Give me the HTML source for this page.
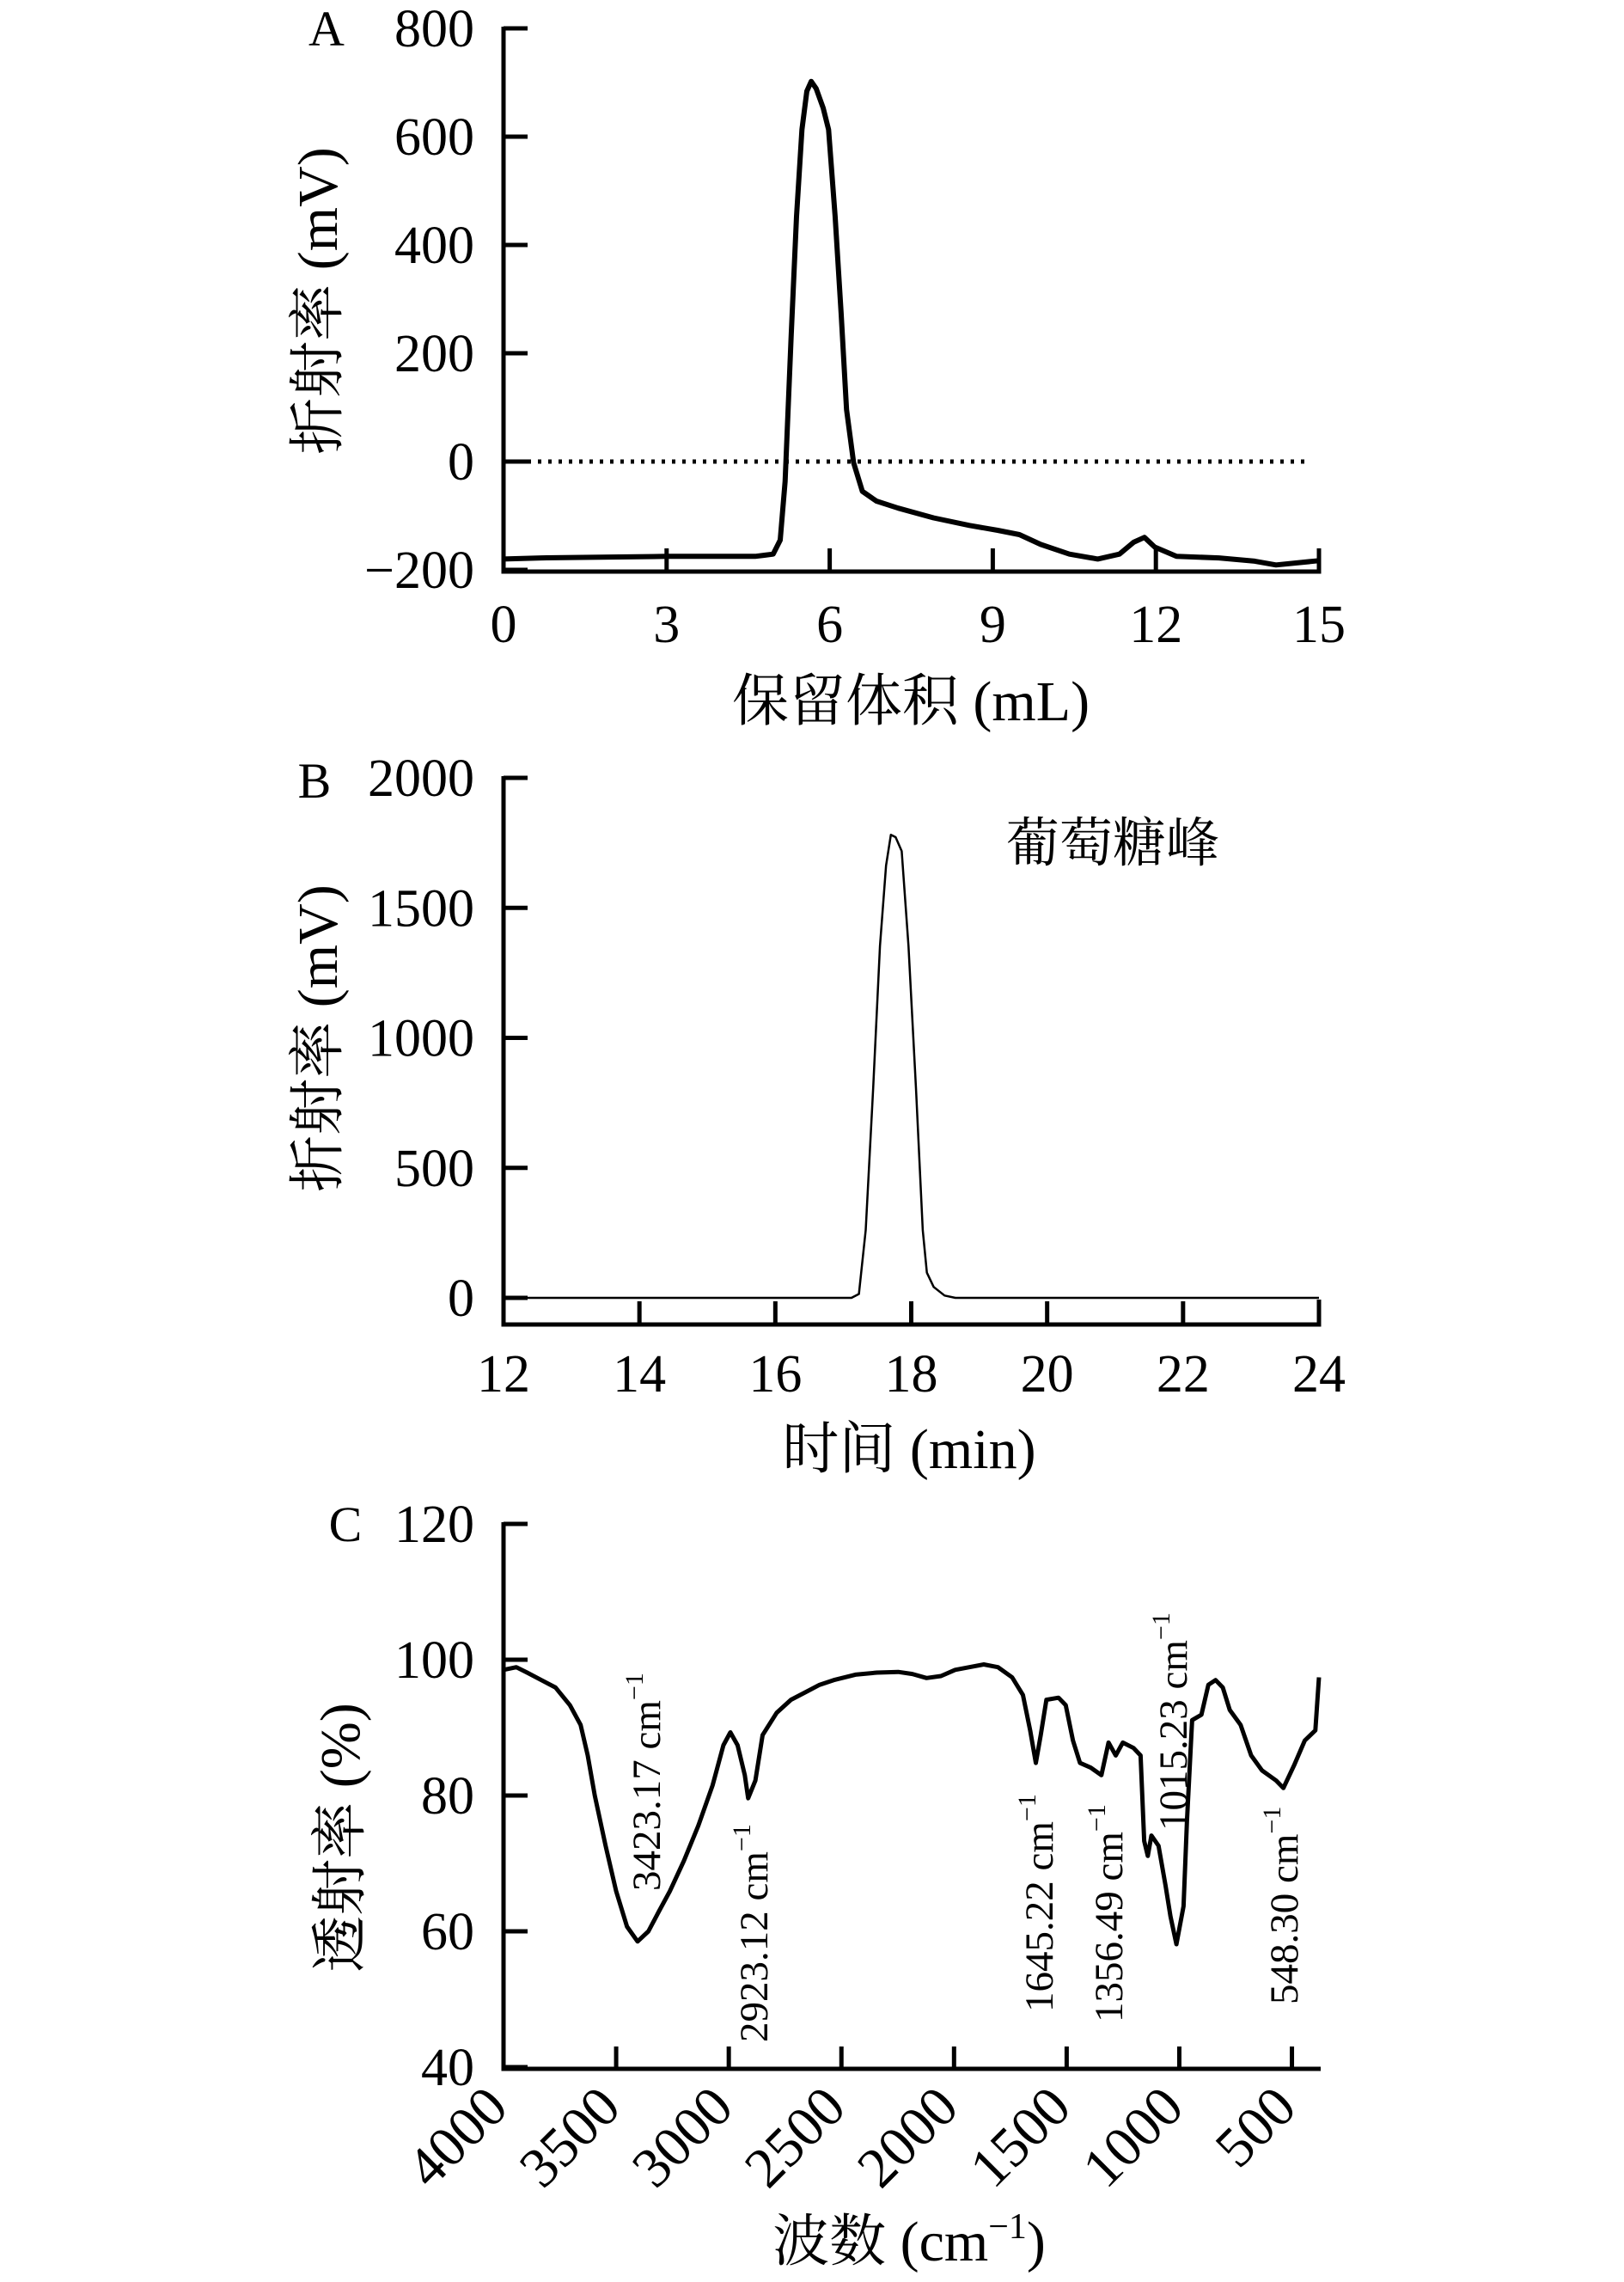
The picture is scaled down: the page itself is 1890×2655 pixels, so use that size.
<!DOCTYPE html>
<html><head><meta charset="utf-8">
<style>
html,body{margin:0;padding:0;background:#fff;}
svg{display:block;}
text{font-family:"Liberation Serif","Noto Serif CJK SC","Noto Sans CJK SC",serif;fill:#000;}
</style></head>
<body>
<svg id="fig" width="1890" height="2655" viewBox="0 0 1890 2655" xmlns="http://www.w3.org/2000/svg">
<g id="gA"></g>
<g id="gB"></g>
<g id="gC"></g>
</svg>
<script>
// Panel A data
const aXTicks = [0, 3, 6, 9, 12, 15];
const aYTicks = [800, 600, 400, 200, 0, -200];
const aYTickLabels = ["800", "600", "400", "200", "0", "\u2212200"];
const aX = [0, 0.7, 3, 4.63, 4.96, 5.09, 5.18, 5.29, 5.39, 5.49, 5.58, 5.66, 5.75, 5.88, 5.98, 6.10, 6.21, 6.31, 6.44, 6.6, 6.86, 7.26, 7.91, 8.57, 9.09, 9.49, 9.88, 10.41, 10.93, 11.33, 11.59, 11.79, 11.98, 12.38, 13.16, 13.82, 14.21, 15];
const aY = [-180, -178, -175, -175, -171, -145, -37, 230, 453, 613, 684, 702, 689, 653, 613, 453, 274, 96, -2, -55, -73, -86, -104, -118, -127, -135, -153, -171, -180, -171, -149, -140, -158, -175, -178, -184, -191, -183];
// Panel B data
const bXTicks = [12, 14, 16, 18, 20, 22, 24];
const bYTicks = [2000, 1500, 1000, 500, 0];
const bX = [12, 17.12, 17.23, 17.33, 17.44, 17.54, 17.63, 17.70, 17.77, 17.86, 17.96, 18.07, 18.17, 18.23, 18.33, 18.49, 18.65, 24];
const bY = [0, 0, 15, 260, 807, 1353, 1663, 1781, 1772, 1718, 1353, 807, 260, 97, 42, 9, 0, 0];
// Panel C data
const cXTicks = [4000, 3500, 3000, 2500, 2000, 1500, 1000, 500];
const cYTicks = [120, 100, 80, 60, 40];
const cX = [4000, 3943, 3895, 3832, 3769, 3705, 3658, 3626, 3595, 3547, 3500, 3452, 3405, 3357, 3309, 3262, 3199, 3135, 3072, 3024, 2993, 2961, 2929, 2914, 2882, 2850, 2787, 2724, 2660, 2597, 2534, 2438, 2343, 2248, 2185, 2122, 2058, 1995, 1932, 1868, 1805, 1742, 1694, 1662, 1637, 1615, 1590, 1536, 1504, 1472, 1441, 1393, 1346, 1314, 1282, 1251, 1203, 1172, 1156, 1140, 1124, 1092, 1061, 1039, 1013, 981, 966, 943, 902, 871, 839, 807, 776, 728, 681, 633, 570, 538, 491, 443, 396, 380];
const cY = [98.5, 98.9, 98.1, 97.0, 95.9, 93.3, 90.4, 85.9, 80, 72.6, 65.9, 60.7, 58.5, 60, 63, 65.9, 70.4, 75.6, 81.5, 87.4, 89.3, 87.4, 83, 79.6, 82.2, 88.9, 92.2, 94.1, 95.2, 96.3, 97, 97.8, 98.1, 98.2, 97.9, 97.3, 97.6, 98.5, 98.9, 99.3, 98.9, 97.4, 94.8, 89.6, 84.8, 88.9, 94.1, 94.4, 93.3, 88.1, 84.8, 84.1, 83, 87.8, 85.9, 87.8, 87, 85.9, 73.3, 71.1, 74.1, 72.6, 66.7, 62.2, 58.1, 63.7, 76.3, 91.1, 91.9, 96.3, 97, 95.9, 92.6, 90.4, 85.9, 83.7, 82.2, 81.1, 84.4, 88.1, 89.6, 97.4];
const cXTickLabels = ["4000", "3500", "3000", "2500", "2000", "1500", "1000", "500"];
const cPeakLabels = ["3423.17", "2923.12", "1645.22", "1356.49", "1015.23", "548.30"];
const cPeakX = [752, 877, 1209, 1290, 1365, 1494];
const cPeakY = [2200, 2376, 2341, 2353, 2130, 2332];

const NS = "http://www.w3.org/2000/svg";
function mk(parent, tag, attrs, txt) {
  const e = document.createElementNS(NS, tag);
  for (const k in attrs) e.setAttribute(k, attrs[k]);
  if (txt !== undefined) e.textContent = txt;
  parent.appendChild(e);
  return e;
}
function lin(d0, d1, r0, r1) { return v => r0 + (v - d0) / (d1 - d0) * (r1 - r0); }
function pathFrom(xs, ys, sx, sy) {
  return xs.map((v, i) => (i ? "L" : "M") + sx(v).toFixed(1) + "," + sy(ys[i]).toFixed(1)).join(" ");
}

// ---------- Panel A ----------
(function () {
  const g = document.getElementById("gA");
  const sx = lin(0, 15, 586, 1535), sy = lin(-200, 800, 663, 33);
  const axis = mk(g, "path", { d: "M586,31 V665 H1535 V638", fill: "none", stroke: "#000", "stroke-width": 5 });
  
  
  aYTicks.forEach((v, i) => {
    const t = mk(g, "line", { x1: 586, x2: 614, y1: sy(v), y2: sy(v), stroke: "#000", "stroke-width": 5 });
    
    
    const l = mk(g, "text", { x: 552, y: sy(v) + 21, "text-anchor": "end", "font-size": 62 }, aYTickLabels[i]);
    
    
  });
  aXTicks.forEach(v => {
    if (v > 0 && v < 15) {
      const t = mk(g, "line", { x1: sx(v), x2: sx(v), y1: 665, y2: 638, stroke: "#000", "stroke-width": 5 });
      
      
    }
    const l = mk(g, "text", { x: sx(v), y: 747, "text-anchor": "middle", "font-size": 62 }, String(v));
    
    
  });
  const zero = mk(g, "line", { x1: 590, x2: 1518, y1: sy(0), y2: sy(0), stroke: "#000", "stroke-width": 5, "stroke-dasharray": "4 8" });
  
  
  const p = mk(g, "path", { d: pathFrom(aX, aY, sx, sy), fill: "none", stroke: "#000", "stroke-width": 6, "stroke-linejoin": "round" });
  
  
  const lt = mk(g, "text", { x: 380, y: 53, "text-anchor": "middle", "font-size": 58 }, "A");
  
  
  const xt = mk(g, "text", { x: 1060, y: 838, "text-anchor": "middle", "font-size": 66 }, "保留体积 (mL)");
  
  
  const yt = mk(g, "text", { x: 0, y: 0, "text-anchor": "middle", "font-size": 66, transform: "translate(392,350) rotate(-90)" }, "折射率 (mV)");
  
  
})();

// ---------- Panel B ----------
(function () {
  const g = document.getElementById("gB");
  const sx = lin(12, 24, 586, 1535), sy = lin(0, 2000, 1510, 905);
  const axis = mk(g, "path", { d: "M586,903 V1541 H1535 V1512", fill: "none", stroke: "#000", "stroke-width": 5 });
  
  
  bYTicks.forEach(v => {
    const t = mk(g, "line", { x1: 586, x2: 614, y1: sy(v), y2: sy(v), stroke: "#000", "stroke-width": 5 });
    
    
    const l = mk(g, "text", { x: 552, y: sy(v) + 21, "text-anchor": "end", "font-size": 62 }, String(v));
    
    
  });
  bXTicks.forEach(v => {
    if (v > 12 && v < 24) {
      const t = mk(g, "line", { x1: sx(v), x2: sx(v), y1: 1541, y2: 1514, stroke: "#000", "stroke-width": 5 });
      
      
    }
    const l = mk(g, "text", { x: sx(v), y: 1619, "text-anchor": "middle", "font-size": 62 }, String(v));
    
    
  });
  const p = mk(g, "path", { d: pathFrom(bX, bY, sx, sy), fill: "none", stroke: "#000", "stroke-width": 2.5, "stroke-linejoin": "round" });
  
  
  const lt = mk(g, "text", { x: 366, y: 928, "text-anchor": "middle", "font-size": 58 }, "B");
  
  
  const gl = mk(g, "text", { x: 1295, y: 1002, "text-anchor": "middle", "font-size": 62 }, "葡萄糖峰");
  
  
  const xt = mk(g, "text", { x: 1058, y: 1708, "text-anchor": "middle", "font-size": 66 }, "时间 (min)");
  
  
  const yt = mk(g, "text", { x: 0, y: 0, "text-anchor": "middle", "font-size": 66, transform: "translate(392,1208) rotate(-90)" }, "折射率 (mV)");
  
  
})();

// ---------- Panel C ----------
(function () {
  const g = document.getElementById("gC");
  const sx = lin(4000, 380, 586, 1535), sy = lin(40, 120, 2405, 1773);
  const axis = mk(g, "path", { d: "M586,1771 V2407 H1537", fill: "none", stroke: "#000", "stroke-width": 5 });
  
  
  cYTicks.forEach(v => {
    const t = mk(g, "line", { x1: 586, x2: 614, y1: sy(v), y2: sy(v), stroke: "#000", "stroke-width": 5 });
    
    
    const l = mk(g, "text", { x: 552, y: sy(v) + 21, "text-anchor": "end", "font-size": 62 }, String(v));
    
    
  });
  cXTicks.forEach((v, i) => {
    if (v < 4000) {
      const t = mk(g, "line", { x1: sx(v), x2: sx(v), y1: 2407, y2: 2381, stroke: "#000", "stroke-width": 5 });
      
      
    }
    const X = sx(v) + 8, Y = 2455;
    const l = mk(g, "text", { x: 0, y: 0, "text-anchor": "end", "font-size": 66, transform: "translate(" + X + "," + Y + ") rotate(-45)" }, cXTickLabels[i]);
    
    
  });
  const p = mk(g, "path", { d: pathFrom(cX, cY, sx, sy), fill: "none", stroke: "#000", "stroke-width": 5, "stroke-linejoin": "round" });
  
  
  cPeakLabels.forEach((s, i) => {
    const t = mk(g, "text", { x: 0, y: 0, "font-size": 47, transform: "translate(" + (cPeakX[i] + 16) + "," + cPeakY[i] + ") rotate(-90)" });
    
    
    mk(t, "tspan", {}, s + " cm");
    mk(t, "tspan", { dy: -20, "font-size": 30 }, "\u22121");
  });
  const lt = mk(g, "text", { x: 402, y: 1793, "text-anchor": "middle", "font-size": 58 }, "C");
  
  
  const xt = mk(g, "text", { x: 1058, y: 2630, "text-anchor": "middle", "font-size": 66 });
  
  
  mk(xt, "tspan", {}, "波数 (cm");
  mk(xt, "tspan", { dy: -26, "font-size": 42 }, "\u22121");
  mk(xt, "tspan", { dy: 26 }, ")");
  const yt = mk(g, "text", { x: 0, y: 0, "text-anchor": "middle", "font-size": 66, transform: "translate(418,2138) rotate(-90)" }, "透射率 (%)");
  
  
})();
</script>
</body></html>
